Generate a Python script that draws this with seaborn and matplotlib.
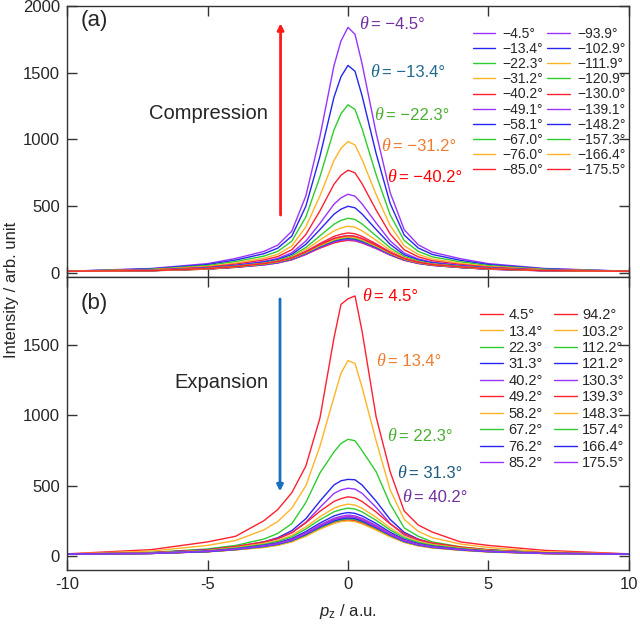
import matplotlib
matplotlib.use("Agg")
import matplotlib.pyplot as plt
import pandas as pd
import seaborn as sns

# ----------------------------------------------------------------------
# Data (intensity in arb. unit on a p_z grid)
# ----------------------------------------------------------------------
P_Z = [-10, -7, -5, -4, -3, -2.5, -2, -1.5, -1, -0.5, -0.25, 0,
       0.25, 0.5, 1, 1.5, 2, 2.5, 3, 4, 5, 7, 10]

ANGLES_A = ["−4.5°", "−13.4°", "−22.3°", "−31.2°", "−40.2°",
            "−49.1°", "−58.1°", "−67.0°", "−76.0°", "−85.0°",
            "−93.9°", "−102.9°", "−111.9°", "−120.9°", "−130.0°",
            "−139.1°", "−148.2°", "−157.3°", "−166.4°", "−175.5°"]
ANGLES_B = ["4.5°", "13.4°", "22.3°", "31.3°", "40.2°",
            "49.2°", "58.2°", "67.2°", "76.2°", "85.2°",
            "94.2°", "103.2°", "112.2°", "121.2°", "130.3°",
            "139.3°", "148.3°", "157.4°", "166.4°", "175.5°"]

PU, BL, GR, OR, RD = "#9933ff", "#2626f0", "#2fcc2f", "#ffb428", "#ff2030"
COLORS_A = [PU, BL, GR, OR, RD, PU, BL, GR, OR, RD,
            PU, BL, OR, GR, RD, PU, BL, GR, OR, RD]
COLORS_B = [RD, OR, GR, BL, PU] * 4

INTENSITY_A = [
    [13, 34, 70, 109, 161, 209, 313, 577, 1021, 1552, 1738, 1840, 1788, 1568, 1050, 603, 324, 211, 156, 107, 70, 34, 13],
    [13, 31, 63, 97, 144, 186, 276, 500, 873, 1316, 1470, 1555, 1511, 1328, 896, 521, 284, 187, 139, 95, 63, 31, 13],
    [13, 28, 56, 86, 126, 162, 238, 420, 720, 1071, 1193, 1260, 1225, 1081, 737, 435, 243, 162, 121, 84, 56, 28, 13],
    [13, 25, 49, 75, 110, 140, 202, 346, 577, 842, 934, 985, 959, 850, 588, 355, 204, 139, 105, 73, 49, 25, 13],
    [13, 23, 44, 66, 97, 123, 174, 288, 465, 664, 732, 770, 750, 669, 472, 293, 174, 121, 92, 64, 44, 23, 13],
    [13, 21, 39, 59, 86, 109, 151, 239, 371, 515, 563, 590, 575, 518, 375, 241, 149, 105, 81, 57, 39, 21, 13],
    [13, 20, 37, 55, 81, 101, 139, 215, 325, 440, 478, 500, 488, 442, 326, 215, 136, 98, 76, 53, 37, 20, 13],
    [13, 19, 35, 52, 75, 94, 127, 191, 278, 365, 394, 410, 401, 367, 278, 189, 124, 90, 70, 50, 35, 19, 13],
    [13, 19, 33, 49, 72, 89, 119, 175, 247, 315, 337, 350, 343, 316, 245, 171, 115, 85, 67, 47, 33, 19, 13],
    [13, 18, 32, 47, 69, 85, 113, 161, 221, 274, 290, 300, 294, 274, 218, 157, 108, 81, 64, 45, 32, 18, 13],
    [13, 18, 32, 47, 69, 86, 113, 159, 213, 259, 272, 280, 275, 259, 210, 154, 108, 81, 64, 45, 32, 18, 13],
    [13, 18, 31, 45, 66, 82, 107, 150, 201, 244, 257, 265, 260, 244, 198, 145, 102, 77, 61, 43, 31, 18, 13],
    [13, 18, 30, 44, 64, 79, 103, 144, 193, 235, 247, 254, 250, 235, 190, 140, 98, 74, 59, 42, 30, 18, 13],
    [13, 17, 29, 43, 62, 77, 101, 142, 189, 230, 242, 249, 245, 230, 187, 137, 96, 73, 58, 41, 29, 17, 13],
    [13, 17, 29, 42, 61, 76, 99, 139, 186, 225, 237, 244, 240, 225, 183, 134, 95, 71, 57, 41, 29, 17, 13],
    [12, 19, 30, 44, 60, 75, 100, 140, 192, 232, 245, 250, 244, 228, 184, 136, 97, 72, 57, 40, 28, 16, 12],
    [14, 18, 31, 45, 65, 80, 105, 148, 198, 240, 253, 260, 254, 238, 194, 142, 100, 75, 60, 43, 30, 18, 14],
    [12, 19, 32, 46, 66, 82, 108, 151, 202, 245, 259, 266, 260, 244, 198, 146, 103, 77, 61, 43, 31, 19, 12],
    [13, 18, 31, 47, 68, 84, 110, 154, 206, 250, 263, 271, 266, 249, 202, 148, 104, 78, 62, 44, 31, 18, 13],
    [13, 18, 33, 48, 70, 86, 112, 158, 212, 258, 271, 279, 274, 257, 208, 152, 107, 80, 63, 45, 32, 18, 13],
]

INTENSITY_B = [
    [15, 45, 100, 140, 250, 330, 450, 640, 980, 1550, 1790, 1830, 1850, 1600, 990, 600, 320, 220, 170, 100, 75, 40, 15],
    [14, 35, 75, 110, 185, 245, 340, 500, 780, 1130, 1300, 1390, 1370, 1200, 820, 470, 260, 175, 130, 85, 60, 30, 14],
    [12, 25, 50, 75, 120, 160, 230, 380, 590, 740, 800, 830, 820, 750, 600, 370, 200, 140, 100, 65, 45, 22, 12],
    [13, 23, 45, 66, 100, 130, 180, 265, 390, 505, 535, 545, 542, 505, 390, 260, 168, 120, 90, 60, 42, 22, 13],
    [13, 22, 42, 62, 95, 122, 165, 240, 345, 445, 470, 482, 476, 446, 346, 232, 150, 110, 85, 58, 40, 22, 13],
    [15, 23, 43, 67, 100, 125, 166, 236, 318, 388, 408, 421, 413, 388, 313, 228, 159, 117, 92, 64, 43, 23, 15],
    [14, 21, 39, 60, 89, 111, 147, 207, 279, 340, 358, 369, 362, 340, 275, 200, 140, 104, 82, 57, 39, 21, 14],
    [14, 20, 37, 56, 82, 103, 136, 192, 258, 314, 330, 340, 334, 314, 254, 185, 129, 96, 76, 53, 37, 20, 14],
    [13, 19, 34, 51, 76, 94, 124, 174, 234, 285, 300, 309, 303, 285, 231, 169, 118, 88, 70, 49, 34, 19, 13],
    [13, 19, 33, 49, 72, 89, 117, 164, 221, 268, 282, 291, 285, 268, 217, 159, 112, 83, 66, 47, 33, 19, 13],
    [13, 18, 32, 47, 69, 86, 113, 159, 213, 259, 272, 280, 275, 259, 210, 154, 108, 81, 64, 45, 32, 18, 13],
    [13, 19, 31, 46, 68, 84, 110, 155, 208, 252, 265, 272, 268, 252, 204, 150, 105, 79, 63, 44, 31, 19, 13],
    [12, 18, 31, 46, 66, 82, 108, 152, 203, 247, 260, 268, 262, 246, 200, 147, 103, 77, 62, 44, 31, 18, 12],
    [12, 19, 32, 46, 66, 82, 108, 151, 202, 245, 259, 266, 260, 244, 198, 146, 103, 77, 61, 43, 31, 19, 12],
    [14, 18, 31, 45, 65, 80, 105, 148, 198, 240, 253, 260, 254, 238, 194, 142, 100, 75, 60, 43, 30, 18, 14],
    [13, 18, 30, 44, 64, 79, 103, 144, 193, 235, 247, 254, 250, 235, 190, 140, 98, 74, 59, 42, 30, 18, 13],
    [12, 19, 30, 44, 60, 75, 100, 140, 192, 232, 245, 250, 244, 228, 184, 136, 97, 72, 57, 40, 28, 16, 12],
    [13, 18, 31, 45, 66, 82, 107, 150, 201, 244, 257, 265, 260, 244, 198, 145, 102, 77, 61, 43, 31, 18, 13],
    [13, 18, 31, 47, 68, 84, 110, 154, 206, 250, 263, 271, 266, 249, 202, 148, 104, 78, 62, 44, 31, 18, 13],
    [13, 18, 33, 48, 70, 86, 112, 158, 212, 258, 271, 279, 274, 257, 208, 152, 107, 80, 63, 45, 32, 18, 13],
]

# theta call-outs: (text, x, y, colour)
NOTES_A = [("−4.5°", 0.39, 1858, "#7030a0"), ("−13.4°", 0.78, 1505, "#1f6a8f"),
           ("−22.3°", 0.93, 1183, "#4caf32"), ("−31.2°", 1.17, 951, "#ed7d31"),
           ("−40.2°", 1.39, 712, "#ff0000")]
NOTES_B = [("4.5°", 0.50, 1843, "#ff0000"), ("13.4°", 1.00, 1386, "#ed7d31"),
           ("22.3°", 1.39, 850, "#4caf32"), ("31.3°", 1.74, 586, "#1f5a7f"),
           ("40.2°", 1.92, 414, "#7030a0")]


def to_long(rows, labels):
    recs = []
    for lab, row in zip(labels, rows):
        for x, y in zip(P_Z, row):
            recs.append({"p_z": x, "I": y, "theta": lab})
    return pd.DataFrame(recs)


# ----------------------------------------------------------------------
# Style
# ----------------------------------------------------------------------
sns.set_style("ticks")
plt.rcParams.update({
    "font.family": ["Liberation Sans", "DejaVu Sans"],
    "axes.unicode_minus": False,
    "mathtext.fontset": "custom",
    "mathtext.rm": "Liberation Sans",
    "mathtext.it": "Liberation Sans:italic",
    "axes.edgecolor": "#333333",
    "axes.linewidth": 1.0,
})

fig = plt.figure(figsize=(6.4, 6.24), dpi=100)
ax_a = fig.add_axes([0.1047, 0.5561, 0.8781, 0.4343])
ax_b = fig.add_axes([0.1047, 0.0865, 0.8781, 0.4696])

panels = [
    (ax_a, INTENSITY_A, ANGLES_A, COLORS_A, NOTES_A, (-30, 2000),
     [0, 500, 1000, 1500, 2000],
     dict(fontsize=10, labelspacing=0.08, handletextpad=0.55, columnspacing=0.25),
     (0.7224, 0.9225)),
    (ax_b, INTENSITY_B, ANGLES_B, COLORS_B, NOTES_B, (-100, 1985),
     [0, 500, 1000, 1500],
     dict(fontsize=10.5, labelspacing=0.17, handletextpad=0.35, columnspacing=0.75),
     (0.735, 0.894)),
]

for ax, rows, labels, colors, notes, ylim, yticks, lkw, lpos in panels:
    df = to_long(rows, labels)
    sns.lineplot(data=df, x="p_z", y="I", hue="theta", hue_order=labels,
                 palette=dict(zip(labels, colors)), estimator=None,
                 linewidth=1.0, legend=False, ax=ax)
    lines = list(ax.lines)
    ax.legend(lines, labels, ncol=2, loc="upper left", bbox_to_anchor=lpos,
              frameon=False, borderpad=0, borderaxespad=0,
              handlelength=1.6, **lkw)
    for txt, x, y, c in notes:
        # serif italic theta, then the sans-serif value
        ax.text(x, y, "θ", color=c, fontsize=13, style="italic",
                family="Liberation Serif", ha="left", va="center")
        ax.annotate("= " + txt, xy=(x, y), xytext=(8.5, 0),
                    textcoords="offset points", color=c, fontsize=12,
                    ha="left", va="center")
    ax.set_xlim(-10, 10)
    ax.set_ylim(*ylim)
    ax.set_yticks(yticks)
    ax.set_xticks([-10, -5, 0, 5, 10])
    ax.tick_params(direction="in", length=7, width=1.0, top=True, right=True,
                   labelsize=12, pad=5, color="#333333")
    ax.set_xlabel("")
    ax.set_ylabel("")

ax_a.tick_params(labelbottom=False)
ax_b.set_xticklabels(["-10", "-5", "0", "5", "10"])
ax_b.set_xlabel(r"$p_{\rm z}$ / a.u.", fontsize=12, labelpad=7)

ax_a.text(0.025, 0.948, "(a)", transform=ax_a.transAxes, fontsize=16,
          ha="left", va="center")
ax_b.text(0.025, 0.911, "(b)", transform=ax_b.transAxes, fontsize=16,
          ha="left", va="center")

ax_a.text(-7.08, 1198, "Compression", fontsize=14.5, ha="left", va="center")
ax_a.annotate("", xy=(-2.4, 1870), xytext=(-2.4, 434),
              arrowprops=dict(arrowstyle="-|>", color="#ff1a1a", lw=2,
                              mutation_scale=9, shrinkA=0, shrinkB=0))
ax_b.text(-6.19, 1236, "Expansion", fontsize=14.5, ha="left", va="center")
ax_b.annotate("", xy=(-2.42, 460), xytext=(-2.42, 1829),
              arrowprops=dict(arrowstyle="-|>", color="#1a6fbf", lw=2,
                              mutation_scale=9, shrinkA=0, shrinkB=0))

fig.text(12 / 640, 0.535, "Intensity / arb. unit", rotation=90,
         fontsize=12, ha="center", va="center")

fig.savefig("out.png", dpi=100, facecolor="white")
